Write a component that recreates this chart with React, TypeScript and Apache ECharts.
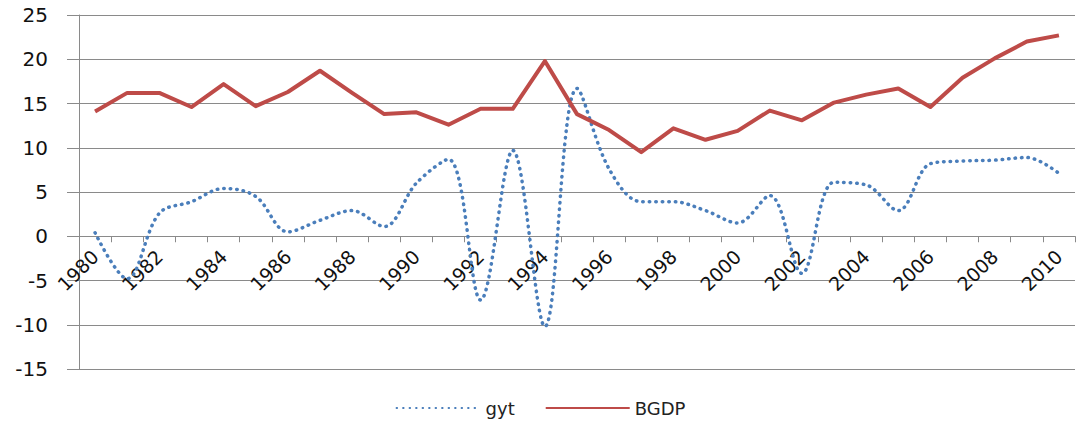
import React, { useEffect, useRef } from "react";
import * as echarts from "echarts";

const years = [
  "1980", "1981", "1982", "1983", "1984", "1985", "1986", "1987", "1988", "1989",
  "1990", "1991", "1992", "1993", "1994", "1995", "1996", "1997", "1998", "1999",
  "2000", "2001", "2002", "2003", "2004", "2005", "2006", "2007", "2008", "2009", "2010",
];

const gyt = [
  0.4, -4.8, 2.6, 3.9, 5.4, 4.5, 0.5, 1.8, 2.9, 1.1,
  6.0, 8.7, -7.2, 9.7, -10.2, 16.7, 7.6, 3.9, 3.9, 2.9,
  1.5, 4.6, -4.2, 6.1, 5.8, 2.9, 8.2, 8.5, 8.6, 8.9, 7.1,
];

const bgdp = [
  14.1, 16.2, 16.2, 14.6, 17.2, 14.7, 16.3, 18.7, 16.2, 13.8,
  14.0, 12.6, 14.4, 14.4, 19.8, 13.8, 12.0, 9.5, 12.2, 10.9,
  11.9, 14.2, 13.1, 15.1, 16.0, 16.7, 14.6, 17.9, 20.1, 22.0, 22.7,
];

const yMin = -15;
const yMax = 25;
const yStep = 5;

const GRID_TOP = 15;
const GRID_BOTTOM = 59;
const CHART_H = 428;

export default function App() {
  const ref = useRef<HTMLDivElement>(null);
  useEffect(() => {
    if (!ref.current) return;
    const chart = echarts.init(ref.current, null, { renderer: "svg" });
    const font = "DejaVu Sans";
    const plotH = CHART_H - GRID_TOP - GRID_BOTTOM;
    const zeroLift = (plotH * (0 - yMin)) / (yMax - yMin);
    chart.setOption({
      animation: false,
      backgroundColor: "#ffffff",
      grid: { left: 79, right: 6, top: GRID_TOP, bottom: GRID_BOTTOM, containLabel: false },
      legend: {
        bottom: 6,
        left: "center",
        itemWidth: 84,
        itemHeight: 12,
        itemGap: 30,
        itemStyle: { opacity: 0 },
        textStyle: { fontFamily: font, fontSize: 18, color: "#222" },
        data: [{ name: "gyt" }, { name: "BGDP" }],
      },
      xAxis: {
        type: "category",
        data: years,
        boundaryGap: true,
        offset: -zeroLift,
        axisLine: { onZero: false, lineStyle: { color: "#8a8a8a", width: 1 } },
        axisTick: { show: true, interval: 0, length: 6, lineStyle: { color: "#8a8a8a" } },
        axisLabel: {
          interval: 1,
          rotate: 45,
          margin: 17,
          fontFamily: font,
          fontSize: 19,
          color: "#111",
        },
        splitLine: { show: false },
      },
      yAxis: {
        type: "value",
        min: yMin,
        max: yMax,
        interval: yStep,
        axisLine: { show: true, lineStyle: { color: "#8a8a8a", width: 1 } },
        axisTick: { show: true, length: 12, lineStyle: { color: "#8a8a8a" } },
        axisLabel: { margin: 31, fontFamily: font, fontSize: 20, color: "#111" },
        splitLine: { show: true, lineStyle: { color: "#8a8a8a", width: 1 } },
      },
      series: [
        {
          name: "gyt",
          type: "line",
          data: gyt,
          smooth: 0.35,
          symbol: "none",
          z: 2,
          itemStyle: { color: "#4a7ebb" },
          lineStyle: { color: "#4a7ebb", width: 3.5, type: [0.5, 6], cap: "round" },
        },
        {
          name: "BGDP",
          type: "line",
          data: bgdp,
          smooth: false,
          symbol: "none",
          z: 3,
          itemStyle: { color: "#be4b48" },
          lineStyle: { color: "#be4b48", width: 4, join: "round" },
        },
      ],
    });
    return () => chart.dispose();
  }, []);
  return <div ref={ref} style={{ width: 1081, height: 428, position: "absolute", left: 0, top: 0 }} />;
}
